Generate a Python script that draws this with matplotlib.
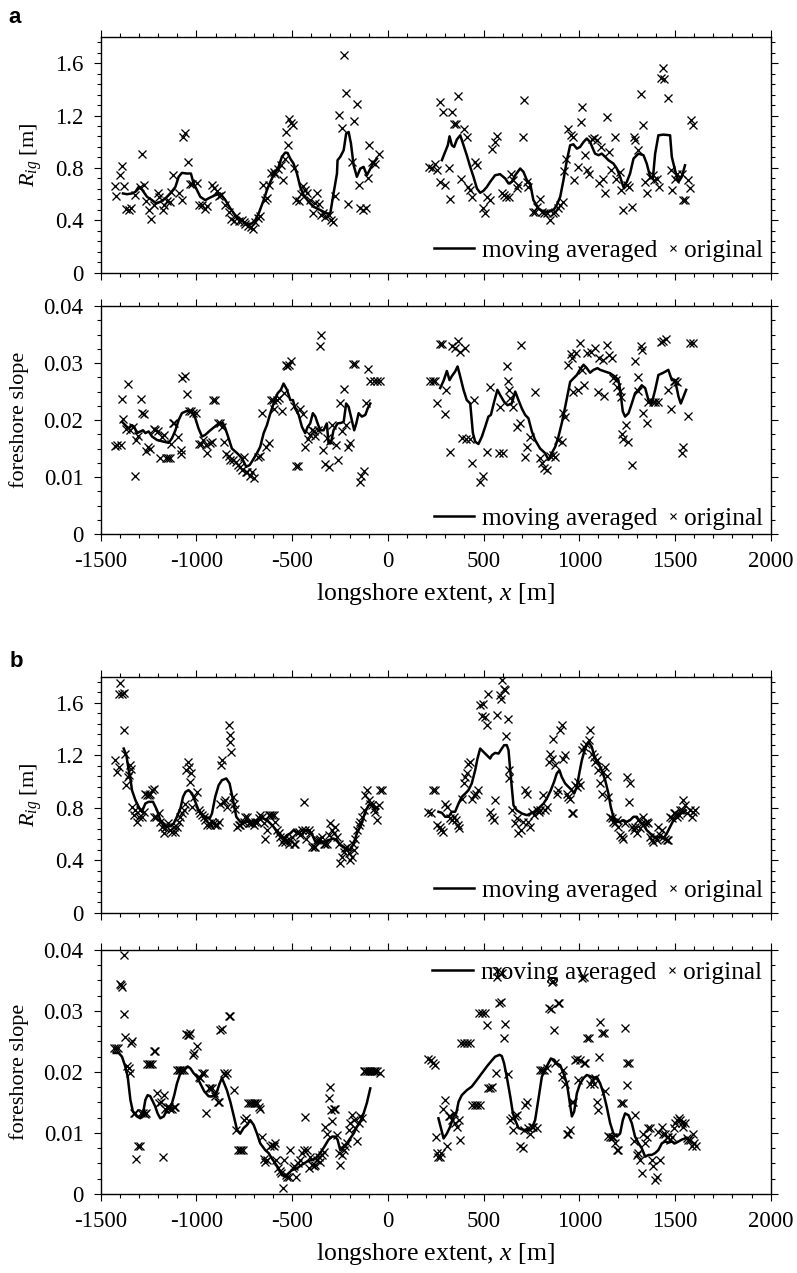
import numpy as np
import matplotlib
matplotlib.use('Agg')
import matplotlib.pyplot as plt
from matplotlib.lines import Line2D
from matplotlib.legend_handler import HandlerLine2D
from matplotlib.ticker import MultipleLocator, FuncFormatter

plt.rcParams['font.family'] = ['Liberation Serif', 'DejaVu Serif']
plt.rcParams['mathtext.fontset'] = 'custom'
plt.rcParams['mathtext.rm'] = 'Liberation Serif'
plt.rcParams['mathtext.it'] = 'Liberation Serif:italic'
plt.rcParams['axes.unicode_minus'] = False

# ---------------- panel a : R_ig ----------------
a_rig_x = [-1424, -1419, -1398, -1387, -1380, -1366, -1354, -1342, -1323, -1293, -1286, -1274, -1262, -1246, -1236,
           -1220, -1203, -1194, -1175, -1168, -1154, -1138, -1131, -1123, -1091, -1077, -1069, -1058, -1046, -1036,
           -1023, -997, -989, -971, -954, -945, -917, -909, -893, -881, -872, -849, -830, -818, -806, -794, -780,
           -764, -754, -745, -729, -715, -707, -694, -681, -668, -654, -641, -634, -621, -611, -597, -592, -573,
           -557, -548, -536, -531, -524, -517, -508, -498, -489, -480, -466, -453, -442, -435, -423, -409, -392,
           -379, -371, -359, -348, -338, -327, -310, -296, -285, -275, -256, -242, -228, -218, -211, -188, -176,
           -162, -153, -144, -131, -117, -106, -101, -84, -66, -49,
           217, 230, 244, 256, 270, 273, 287, 299, 317, 322, 334, 343, 355, 364, 381, 398, 412, 421, 430, 438, 456,
           465, 496, 508, 520, 534, 543, 560, 572, 595, 607, 618, 630, 642, 656, 673, 682, 705, 713, 726, 734, 757,
           769, 781, 795, 804, 816, 830, 847, 860, 874, 886, 900, 914, 922, 929, 943, 955, 966, 973, 995, 1009,
           1016, 1030, 1042, 1053, 1065, 1077, 1091, 1105, 1112, 1126, 1135, 1147, 1157, 1164, 1187, 1192, 1210,
           1217, 1230, 1248, 1262, 1274, 1283, 1291, 1304, 1321, 1331, 1344, 1356, 1370, 1384, 1392, 1404, 1418,
           1427, 1436, 1443, 1462, 1478, 1483, 1500, 1512, 1535, 1544, 1552, 1565, 1579, 1584, 1596]
a_rig_y = [0.665, 0.589, 0.749, 0.818, 0.665, 0.485, 0.478, 0.490, 0.592, 0.655, 0.907, 0.673, 0.551, 0.478, 0.406,
           0.518, 0.605, 0.579, 0.475, 0.513, 0.549, 0.541, 0.617, 0.747, 0.610, 0.554, 1.036, 1.067, 0.846, 0.678,
           0.676, 0.686, 0.516, 0.513, 0.483, 0.508, 0.673, 0.643, 0.627, 0.582, 0.594, 0.516, 0.460, 0.409, 0.394,
           0.434, 0.391, 0.401, 0.384, 0.368, 0.356, 0.351, 0.333, 0.384, 0.419, 0.432, 0.668, 0.554, 0.572, 0.668,
           0.762, 0.770, 0.757, 0.795, 0.820, 0.706, 0.871, 1.072, 0.978, 1.176, 1.143, 1.125, 0.800, 0.554, 0.546,
           0.597, 0.658, 0.630, 0.605, 0.554, 0.457, 0.533, 0.612, 0.523, 0.439, 0.452, 0.427, 0.439, 0.401, 0.389,
           0.587, 1.201, 1.105, 1.664, 1.372, 0.523, 0.846, 1.158, 1.288, 0.668, 0.490, 0.480, 0.490, 0.726, 0.978,
           0.846, 0.826, 0.909,
           0.808, 0.800, 0.833, 0.782, 0.693, 1.303, 1.227, 0.668, 0.800, 0.566, 1.227, 1.138, 1.138, 1.346, 0.714,
           1.095, 1.036, 0.655, 0.630, 0.579, 0.846, 0.820, 0.490, 0.452, 0.579, 0.554, 0.947, 0.998, 1.041, 0.610,
           0.592, 0.579, 0.579, 0.757, 0.706, 0.643, 0.668, 1.036, 1.316, 0.693, 0.655, 0.465, 0.465, 0.503, 0.566,
           0.465, 0.457, 0.452, 0.401, 0.452, 0.465, 0.490, 0.516, 0.541, 0.777, 0.871, 1.100, 1.049, 1.036, 0.706,
           0.808, 1.151, 1.265, 0.897, 0.782, 0.757, 1.024, 1.031, 1.011, 0.681, 0.960, 0.719, 0.605, 1.189, 0.922,
           0.782, 1.036, 0.719, 0.770, 0.630, 0.478, 0.668, 0.655, 0.503, 1.036, 1.011, 0.935, 1.361, 1.130, 0.693,
           0.605, 0.732, 0.744, 0.706, 0.719, 0.655, 1.488, 1.562, 1.481, 1.336, 0.782, 0.630, 0.719, 0.757, 0.757,
           0.554, 0.554, 0.706, 0.643, 1.163, 1.125]

a_rig_ma_west_x = [-1384, -1363, -1337, -1319, -1302, -1285, -1258, -1232, -1210, -1189, -1163, -1137, -1110, -1093,
                   -1076, -1050, -1029, -1015, -997, -980, -954, -928, -902, -876, -849, -823, -797, -771, -736,
                   -710, -693, -675, -649, -632, -614, -594, -571, -554, -536, -524, -510, -493, -475, -458, -440,
                   -414, -388, -353, -319, -301, -284, -266, -263, -249, -231, -218, -205, -193, -179, -162, -144,
                   -127, -110, -96, -78, -57]
a_rig_ma_west_y = [0.605, 0.599, 0.605, 0.617, 0.655, 0.635, 0.579, 0.554, 0.528, 0.541, 0.566, 0.605, 0.655, 0.732,
                   0.762, 0.757, 0.757, 0.681, 0.630, 0.579, 0.554, 0.574, 0.592, 0.605, 0.554, 0.490, 0.439, 0.406,
                   0.371, 0.376, 0.401, 0.452, 0.554, 0.630, 0.693, 0.757, 0.808, 0.884, 0.917, 0.914, 0.871, 0.833,
                   0.757, 0.655, 0.592, 0.541, 0.503, 0.478, 0.452, 0.452, 0.605, 0.757, 0.859, 0.884, 0.935, 1.062,
                   1.074, 0.986, 0.820, 0.732, 0.795, 0.808, 0.744, 0.782, 0.833, 0.871]
a_rig_ma_east_x = [282, 299, 313, 322, 334, 346, 360, 378, 395, 412, 430, 447, 465, 482, 499, 517, 534, 560, 586, 613,
                   630, 647, 665, 691, 708, 726, 743, 760, 787, 813, 839, 865, 882, 900, 917, 935, 952, 969, 987,
                   1004, 1022, 1039, 1056, 1082, 1100, 1117, 1135, 1152, 1178, 1196, 1213, 1230, 1248, 1265, 1283,
                   1309, 1335, 1352, 1370, 1384, 1396, 1413, 1439, 1474, 1483, 1500, 1518, 1535, 1552]
a_rig_ma_east_y = [0.859, 0.922, 0.973, 1.041, 0.973, 0.960, 1.016, 1.049, 0.973, 0.897, 0.808, 0.732, 0.643, 0.610,
                   0.625, 0.655, 0.693, 0.744, 0.752, 0.719, 0.681, 0.693, 0.744, 0.795, 0.770, 0.706, 0.681, 0.554,
                   0.490, 0.465, 0.465, 0.478, 0.516, 0.579, 0.706, 0.859, 0.973, 0.980, 0.947, 0.960, 0.998, 1.024,
                   0.998, 0.909, 0.897, 0.909, 0.884, 0.859, 0.833, 0.795, 0.732, 0.655, 0.693, 0.757, 0.871, 0.909,
                   0.897, 0.833, 0.732, 0.719, 0.909, 1.049, 1.054, 1.049, 0.884, 0.782, 0.693, 0.732, 0.820]

# ---------------- panel a : foreshore slope ----------------
a_slope_x = [-1424, -1415, -1394, -1389, -1384, -1370, -1358, -1345, -1332, -1319, -1314, -1307, -1290, -1283, -1274,
             -1262, -1253, -1245, -1224, -1215, -1203, -1189, -1178, -1171, -1159, -1151, -1140, -1133, -1123, -1116,
             -1095, -1083, -1081, -1074, -1060, -1050, -1037, -1029, -1018, -1001, -987, -978, -966, -952, -945,
             -931, -917, -914, -903, -889, -876, -867, -855, -844, -832, -823, -809, -795, -785, -771, -761, -754,
             -743, -735, -722, -712, -701, -681, -670, -660, -639, -621, -611, -601, -594, -580, -569, -554, -541,
             -534, -527, -517, -507, -493, -479, -470, -458, -444, -433, -419, -406, -395, -388, -379, -367, -357,
             -350, -339, -327, -317, -308, -301, -291, -273, -263, -252, -240, -228, -221, -211, -197, -181, -172,
             -148, -139, -127, -115, -106, -92, -75, -57, -40,
             221, 233, 245, 259, 270, 282, 296, 304, 325, 334, 351, 364, 378, 386, 404, 409, 430, 438, 451, 482, 499,
             517, 534, 578, 586, 600, 621, 626, 630, 639, 656, 673, 691, 696, 717, 729, 743, 769, 792, 804, 813, 830,
             847, 861, 874, 891, 908, 917, 926, 943, 955, 961, 969, 982, 995, 1004, 1016, 1025, 1039, 1060, 1082,
             1095, 1105, 1123, 1129, 1143, 1157, 1170, 1178, 1192, 1199, 1210, 1217, 1222, 1230, 1244, 1253, 1274,
             1291, 1304, 1309, 1321, 1326, 1335, 1352, 1361, 1384, 1396, 1413, 1425, 1439, 1452, 1465, 1478, 1492,
             1500, 1512, 1535, 1540, 1566, 1579, 1596]
a_slope_y = [0.0154, 0.0156, 0.0156, 0.0237, 0.0202, 0.0184, 0.0263, 0.0182, 0.0188, 0.0101, 0.0165, 0.0172, 0.0237,
             0.0213, 0.0211, 0.0146, 0.0153, 0.0149, 0.0185, 0.0182, 0.0180, 0.0134, 0.0171, 0.0173, 0.0134, 0.0134,
             0.0134, 0.0158, 0.0195, 0.0194, 0.0171, 0.0147, 0.0140, 0.0274, 0.0277, 0.0246, 0.0215, 0.0215, 0.0212,
             0.0213, 0.0158, 0.0158, 0.0165, 0.0156, 0.0142, 0.0159, 0.0161, 0.0235, 0.0235, 0.0195, 0.0195, 0.0188,
             0.0162, 0.0140, 0.0137, 0.0129, 0.0130, 0.0126, 0.0121, 0.0118, 0.0112, 0.0136, 0.0108, 0.0109, 0.0102,
             0.0108, 0.0098, 0.0136, 0.0137, 0.0213, 0.0153, 0.0159, 0.0235, 0.0235, 0.0219, 0.0235, 0.0238, 0.0216,
             0.0247, 0.0296, 0.0295, 0.0297, 0.0304, 0.0225, 0.0119, 0.0119, 0.0220, 0.0211, 0.0153, 0.0166, 0.0174,
             0.0182, 0.0180, 0.0172, 0.0182, 0.0329, 0.0349, 0.0147, 0.0123, 0.0168, 0.0118, 0.0164, 0.0191, 0.0156,
             0.0129, 0.0229, 0.0180, 0.0254, 0.0191, 0.0153, 0.0159, 0.0299, 0.0299, 0.0092, 0.0101, 0.0111, 0.0230,
             0.0290, 0.0269, 0.0268, 0.0268, 0.0268,
             0.0269, 0.0269, 0.0269, 0.0229, 0.0333, 0.0333, 0.0211, 0.0253, 0.0144, 0.0330, 0.0327, 0.0339, 0.0320,
             0.0168, 0.0327, 0.0166, 0.0166, 0.0124, 0.0235, 0.0092, 0.0101, 0.0144, 0.0258, 0.0142, 0.0223, 0.0142,
             0.0294, 0.0269, 0.0253, 0.0238, 0.0223, 0.0188, 0.0194, 0.0332, 0.0136, 0.0153, 0.0171, 0.0250, 0.0133,
             0.0124, 0.0115, 0.0112, 0.0137, 0.0139, 0.0136, 0.0165, 0.0162, 0.0212, 0.0206, 0.0297, 0.0316, 0.0308,
             0.0250, 0.0317, 0.0253, 0.0335, 0.0288, 0.0261, 0.0317, 0.0320, 0.0326, 0.0250, 0.0308, 0.0305, 0.0242,
             0.0332, 0.0314, 0.0308, 0.0273, 0.0270, 0.0258, 0.0251, 0.0241, 0.0175, 0.0166, 0.0191, 0.0162, 0.0121,
             0.0304, 0.0276, 0.0251, 0.0329, 0.0323, 0.0213, 0.0194, 0.0232, 0.0232, 0.0232, 0.0232, 0.0337, 0.0339,
             0.0342, 0.0253, 0.0220, 0.0269, 0.0268, 0.0267, 0.0142, 0.0152, 0.0207, 0.0336, 0.0335]

a_slope_ma_west_x = [-1389, -1372, -1354, -1337, -1325, -1311, -1293, -1279, -1267, -1250, -1232, -1206, -1171, -1145,
                     -1128, -1110, -1093, -1076, -1058, -1041, -1023, -1006, -989, -971, -954, -928, -902, -884, -862,
                     -849, -832, -815, -788, -762, -740, -722, -705, -684, -667, -649, -632, -614, -597, -576, -559,
                     -545, -527, -510, -496, -484, -466, -449, -432, -419, -406, -392, -379, -367, -353, -336, -319,
                     -310, -298, -284, -263, -245, -231, -218, -205, -193, -176, -165, -153, -136, -118, -106, -92]
a_slope_ma_west_y = [0.0197, 0.0191, 0.0185, 0.0191, 0.0188, 0.0177, 0.0180, 0.0182, 0.0177, 0.0180, 0.0171, 0.0165,
                     0.0162, 0.0160, 0.0168, 0.0182, 0.0200, 0.0212, 0.0215, 0.0216, 0.0215, 0.0203, 0.0185, 0.0171,
                     0.0174, 0.0182, 0.0189, 0.0194, 0.0195, 0.0185, 0.0168, 0.0150, 0.0142, 0.0133, 0.0118, 0.0121,
                     0.0130, 0.0142, 0.0153, 0.0177, 0.0191, 0.0212, 0.0229, 0.0247, 0.0253, 0.0264, 0.0253, 0.0235,
                     0.0235, 0.0220, 0.0209, 0.0188, 0.0177, 0.0188, 0.0194, 0.0212, 0.0206, 0.0194, 0.0182, 0.0182,
                     0.0194, 0.0159, 0.0159, 0.0182, 0.0194, 0.0195, 0.0197, 0.0229, 0.0223, 0.0206, 0.0182, 0.0194,
                     0.0212, 0.0206, 0.0209, 0.0220, 0.0229]
a_slope_ma_east_x = [273, 291, 308, 322, 334, 351, 364, 378, 395, 412, 430, 444, 456, 473, 491, 508, 525, 538, 555,
                     572, 586, 607, 625, 647, 665, 682, 700, 717, 734, 752, 769, 795, 821, 839, 856, 874, 891, 908,
                     926, 952, 969, 987, 1004, 1022, 1039, 1056, 1074, 1095, 1109, 1135, 1161, 1187, 1204, 1213, 1227,
                     1239, 1257, 1274, 1291, 1309, 1326, 1344, 1361, 1378, 1396, 1413, 1439, 1465, 1483, 1500, 1518,
                     1530, 1544, 1558]
a_slope_ma_east_y = [0.0256, 0.0269, 0.0286, 0.0270, 0.0277, 0.0285, 0.0294, 0.0276, 0.0253, 0.0235, 0.0229, 0.0177,
                     0.0162, 0.0158, 0.0171, 0.0188, 0.0206, 0.0209, 0.0232, 0.0253, 0.0244, 0.0232, 0.0226, 0.0229,
                     0.0250, 0.0235, 0.0220, 0.0209, 0.0203, 0.0180, 0.0165, 0.0150, 0.0142, 0.0130, 0.0142, 0.0153,
                     0.0171, 0.0194, 0.0223, 0.0267, 0.0273, 0.0279, 0.0289, 0.0297, 0.0291, 0.0283, 0.0288, 0.0291,
                     0.0288, 0.0285, 0.0282, 0.0276, 0.0270, 0.0253, 0.0215, 0.0206, 0.0212, 0.0229, 0.0247, 0.0253,
                     0.0261, 0.0256, 0.0235, 0.0229, 0.0253, 0.0279, 0.0283, 0.0288, 0.0270, 0.0270, 0.0241, 0.0229,
                     0.0241, 0.0253]

# ---------------- panel b : R_ig ----------------
b_rig_x = [-1424, -1415, -1406, -1403, -1398, -1389, -1380, -1377, -1372, -1366, -1359, -1354, -1345, -1340, -1335,
           -1328, -1319, -1311, -1302, -1293, -1285, -1276, -1267, -1258, -1250, -1241, -1232, -1224, -1220, -1210,
           -1198, -1189, -1180, -1171, -1163, -1151, -1137, -1128, -1119, -1110, -1102, -1093, -1084, -1076, -1067,
           -1058, -1053, -1046, -1041, -1036, -1029, -1023, -1011, -997, -987, -980, -971, -963, -954, -945, -936,
           -928, -919, -910, -902, -893, -884, -879, -872, -865, -858, -849, -841, -832, -827, -823, -818, -811,
           -806, -797, -788, -780, -771, -762, -754, -745, -736, -728, -719, -710, -701, -693, -684, -675, -667,
           -658, -649, -641, -632, -623, -614, -606, -597, -588, -580, -571, -562, -554, -545, -536, -527, -519,
           -510, -501, -493, -484, -475, -466, -458, -449, -440, -432, -426, -414, -406, -397, -388, -379, -371,
           -362, -353, -345, -336, -327, -319, -310, -301, -292, -284, -275, -266, -258, -249, -240, -231, -223,
           -214, -205, -197, -188, -183, -179, -171, -162, -153, -144, -136, -127, -118, -110, -101, -92, -84, -75,
           -66, -57, -49, -40, -31,
           212, 224, 235, 247, 259, 270, 277, 287, 299, 308, 322, 334, 343, 357, 364, 374, 386, 395, 404, 412, 421,
           430, 438, 451, 461, 473, 482, 491, 499, 508, 517, 525, 534, 543, 552, 560, 572, 583, 590, 597, 604, 613,
           618, 625, 630, 635, 647, 665, 673, 682, 694, 705, 717, 726, 734, 743, 752, 764, 778, 787, 795, 809, 821,
           830, 839, 847, 856, 865, 874, 882, 891, 900, 908, 917, 926, 935, 943, 952, 961, 969, 978, 987, 995, 1004,
           1013, 1025, 1035, 1048, 1056, 1065, 1074, 1082, 1091, 1100, 1109, 1117, 1126, 1135, 1143, 1152, 1161,
           1170, 1178, 1187, 1196, 1204, 1213, 1222, 1230, 1239, 1248, 1257, 1265, 1274, 1283, 1291, 1300, 1309,
           1317, 1326, 1335, 1344, 1352, 1361, 1370, 1378, 1387, 1396, 1404, 1413, 1422, 1431, 1439, 1448, 1457,
           1465, 1474, 1483, 1492, 1500, 1509, 1518, 1526, 1535, 1544, 1552, 1561, 1579, 1587, 1596, 1605]
b_rig_y = [1.168, 1.074, 1.113, 1.671, 1.753, 1.671, 1.392, 1.676, 1.214, 0.973, 1.036, 1.049, 1.125, 1.100, 0.808,
           0.744, 0.782, 0.693, 0.732, 0.782, 0.732, 0.770, 0.909, 0.897, 0.897, 0.909, 0.935, 0.947, 0.732, 0.732,
           0.757, 0.693, 0.655, 0.605, 0.643, 0.681, 0.630, 0.617, 0.655, 0.617, 0.655, 0.693, 0.732, 0.762, 0.782,
           0.833, 1.092, 1.151, 1.113, 0.998, 1.062, 0.808, 0.884, 0.922, 0.782, 0.757, 0.744, 0.732, 0.706, 0.668,
           0.681, 0.668, 0.693, 0.681, 0.668, 0.668, 0.693, 0.833, 1.125, 1.163, 0.846, 0.859, 0.808, 1.430, 1.303,
           1.354, 1.227, 0.884, 0.833, 0.795, 0.655, 0.668, 0.668, 0.681, 0.693, 0.732, 0.732, 0.681, 0.681, 0.681,
           0.668, 0.693, 0.693, 0.719, 0.744, 0.732, 0.681, 0.566, 0.630, 0.744, 0.744, 0.744, 0.744, 0.693, 0.630,
           0.605, 0.579, 0.541, 0.566, 0.541, 0.554, 0.528, 0.554, 0.579, 0.528, 0.528, 0.617, 0.617, 0.592, 0.630,
           0.846, 0.630, 0.566, 0.630, 0.605, 0.503, 0.503, 0.503, 0.554, 0.554, 0.566, 0.579, 0.528, 0.528, 0.528,
           0.592, 0.681, 0.630, 0.605, 0.655, 0.579, 0.528, 0.376, 0.427, 0.465, 0.490, 0.503, 0.452, 0.401, 0.427,
           0.528, 0.478, 0.566, 0.630, 0.668, 0.693, 0.732, 0.782, 0.897, 0.935, 0.859, 0.833, 0.820, 0.795, 0.770,
           0.706, 0.820, 0.935, 0.935,
           0.770, 0.762, 0.935, 0.935, 0.668, 0.655, 0.630, 0.617, 0.833, 0.808, 0.719, 0.706, 0.732, 0.706, 0.668,
           0.643, 0.871, 0.986, 1.036, 1.062, 1.138, 1.151, 0.871, 0.897, 0.909, 0.935, 1.582, 1.499, 1.595, 1.494,
           1.430, 1.671, 0.770, 0.732, 0.706, 0.859, 1.506, 1.659, 1.633, 1.773, 1.709, 1.697, 1.346, 1.481, 1.087,
           1.024, 0.782, 0.681, 0.719, 0.610, 0.630, 0.693, 0.935, 0.909, 0.693, 0.655, 0.770, 0.744, 0.782, 0.770,
           0.782, 0.897, 0.782, 0.808, 1.151, 1.214, 1.176, 1.328, 1.125, 0.909, 0.935, 1.392, 1.430, 1.176, 1.201,
           0.909, 0.884, 0.871, 0.757, 0.757, 0.973, 0.960, 0.998, 0.973, 1.240, 1.265, 1.290, 1.316, 1.392, 1.214,
           1.189, 1.151, 1.163, 1.087, 0.986, 0.909, 1.074, 1.113, 1.041, 0.884, 0.732, 0.719, 0.693, 0.681, 0.706,
           0.655, 0.592, 0.579, 0.566, 0.681, 1.036, 0.846, 0.986, 0.655, 0.630, 0.655, 0.605, 0.706, 0.643, 0.681,
           0.732, 0.681, 0.693, 0.681, 0.579, 0.554, 0.541, 0.579, 0.554, 0.655, 0.592, 0.630, 0.579, 0.566, 0.554,
           0.554, 0.732, 0.719, 0.757, 0.757, 0.732, 0.744, 0.782, 0.782, 0.859, 0.820, 0.757, 0.782, 0.732, 0.770,
           0.782]

b_rig_ma_west_x = [-1380, -1366, -1354, -1345, -1337, -1319, -1302, -1285, -1267, -1250, -1227, -1206, -1189, -1171,
                   -1154, -1137, -1119, -1102, -1084, -1070, -1057, -1041, -1023, -1006, -989, -971, -954, -931, -919,
                   -902, -884, -867, -844, -827, -809, -792, -771, -745, -722, -701, -684, -667, -649, -632, -614,
                   -597, -580, -562, -545, -527, -510, -493, -472, -449, -432, -414, -397, -379, -357, -336, -310,
                   -284, -266, -249, -231, -214, -197, -179, -162, -141, -118, -101, -84, -66, -54]
b_rig_ma_west_y = [1.252, 1.201, 1.087, 1.024, 0.935, 0.859, 0.808, 0.770, 0.833, 0.846, 0.846, 0.782, 0.706, 0.681,
                   0.655, 0.660, 0.681, 0.732, 0.795, 0.884, 0.922, 0.935, 0.909, 0.846, 0.782, 0.744, 0.732, 0.719,
                   0.757, 0.884, 0.973, 1.011, 1.024, 0.986, 0.859, 0.732, 0.693, 0.693, 0.693, 0.693, 0.706, 0.719,
                   0.719, 0.706, 0.681, 0.655, 0.617, 0.592, 0.566, 0.592, 0.605, 0.630, 0.605, 0.592, 0.630, 0.630,
                   0.599, 0.541, 0.533, 0.541, 0.554, 0.566, 0.554, 0.516, 0.503, 0.478, 0.478, 0.528, 0.605, 0.668,
                   0.770, 0.820, 0.833, 0.808, 0.795]
b_rig_ma_east_x = [264, 282, 299, 317, 334, 351, 369, 386, 404, 421, 438, 456, 468, 482, 499, 517, 534, 543, 560, 578,
                   595, 607, 621, 630, 639, 647, 656, 673, 700, 726, 752, 769, 795, 813, 830, 851, 868, 882, 896, 908,
                   926, 943, 961, 973, 987, 1001, 1013, 1030, 1048, 1065, 1082, 1100, 1117, 1135, 1152, 1164, 1178,
                   1196, 1213, 1230, 1248, 1265, 1283, 1300, 1317, 1335, 1352, 1370, 1387, 1404, 1422, 1439, 1457,
                   1474, 1492, 1509, 1526, 1544, 1556]
b_rig_ma_east_y = [0.770, 0.762, 0.732, 0.732, 0.770, 0.770, 0.833, 0.884, 0.909, 0.935, 0.986, 1.087, 1.176, 1.252,
                   1.227, 1.201, 1.176, 1.201, 1.219, 1.214, 1.252, 1.278, 1.278, 1.240, 1.087, 0.960, 0.820, 0.782,
                   0.757, 0.744, 0.762, 0.770, 0.808, 0.833, 0.871, 0.935, 0.998, 1.062, 1.087, 1.036, 0.986, 0.960,
                   0.935, 0.909, 0.960, 1.074, 1.163, 1.252, 1.303, 1.265, 1.176, 1.138, 1.087, 1.011, 0.909, 0.808,
                   0.732, 0.693, 0.693, 0.706, 0.693, 0.706, 0.732, 0.732, 0.693, 0.668, 0.630, 0.605, 0.579, 0.579,
                   0.579, 0.566, 0.605, 0.655, 0.706, 0.732, 0.757, 0.762, 0.782]

# ---------------- panel b : foreshore slope ----------------
b_slope_x = [-1429, -1419, -1412, -1401, -1394, -1389, -1380, -1380, -1372, -1363, -1354, -1349, -1340, -1335, -1328,
             -1319, -1314, -1307, -1297, -1290, -1279, -1271, -1262, -1258, -1250, -1241, -1232, -1224, -1215, -1206,
             -1198, -1185, -1175, -1171, -1163, -1154, -1145, -1137, -1128, -1119, -1110, -1102, -1093, -1084, -1076,
             -1067, -1057, -1046, -1039, -1032, -1018, -1011, -997, -989, -983, -971, -963, -949, -936, -931, -919,
             -910, -902, -889, -882, -876, -867, -858, -849, -841, -832, -823, -806, -795, -785, -775, -768, -757,
             -750, -740, -733, -722, -710, -701, -693, -684, -675, -667, -658, -649, -641, -632, -614, -606, -597,
             -588, -583, -574, -566, -557, -548, -541, -534, -527, -519, -510, -496, -489, -479, -470, -461, -449,
             -440, -432, -423, -414, -406, -397, -388, -379, -371, -362, -353, -345, -336, -327, -319, -310, -301,
             -296, -292, -284, -275, -266, -258, -249, -240, -231, -223, -214, -205, -197, -188, -179, -171, -162,
             -153, -144, -136, -127, -118, -110, -101, -92, -84, -75, -66, -57, -40,
             212, 224, 235, 247, 252, 259, 264, 270, 277, 287, 296, 308, 317, 325, 334, 343, 351, 360, 369, 378, 381,
             395, 412, 430, 438, 456, 468, 482, 478, 491, 508, 520, 525, 534, 543, 566, 579, 590, 595, 607, 614, 625,
             639, 647, 656, 665, 673, 691, 705, 712, 717, 726, 734, 743, 752, 760, 778, 792, 804, 813, 830, 839, 851,
             856, 868, 874, 886, 896, 908, 917, 926, 935, 943, 952, 961, 969, 978, 987, 995, 1004, 1013, 1022, 1030,
             1039, 1048, 1056, 1065, 1074, 1082, 1091, 1095, 1105, 1109, 1119, 1129, 1135, 1152, 1161, 1170, 1178,
             1187, 1196, 1204, 1217, 1230, 1239, 1248, 1251, 1262, 1283, 1291, 1300, 1309, 1317, 1326, 1335, 1344,
             1352, 1361, 1370, 1378, 1387, 1396, 1404, 1413, 1422, 1431, 1439, 1448, 1457, 1465, 1474, 1483, 1492,
             1500, 1509, 1518, 1526, 1535, 1544, 1552, 1561, 1570, 1579, 1587, 1596, 1599, 1608, 572, 569, 861, 1022]
b_slope_y = [0.0239, 0.0239, 0.0239, 0.0344, 0.0342, 0.0340, 0.0392, 0.0295, 0.0258, 0.0209, 0.0206, 0.0198, 0.0248,
             0.0250, 0.0132, 0.0133, 0.0057, 0.0078, 0.0078, 0.0133, 0.0133, 0.0131, 0.0133, 0.0213, 0.0213, 0.0213,
             0.0213, 0.0235, 0.0235, 0.0165, 0.0149, 0.0150, 0.0060, 0.0162, 0.0140, 0.0143, 0.0143, 0.0140, 0.0140,
             0.0143, 0.0143, 0.0203, 0.0203, 0.0203, 0.0203, 0.0203, 0.0262, 0.0261, 0.0261, 0.0263, 0.0228, 0.0231,
             0.0242, 0.0192, 0.0190, 0.0198, 0.0198, 0.0133, 0.0173, 0.0173, 0.0173, 0.0165, 0.0160, 0.0150, 0.0151,
             0.0269, 0.0270, 0.0198, 0.0195, 0.0198, 0.0292, 0.0292, 0.0170, 0.0104, 0.0072, 0.0072, 0.0072, 0.0072,
             0.0121, 0.0124, 0.0149, 0.0149, 0.0149, 0.0149, 0.0149, 0.0149, 0.0143, 0.0140, 0.0094, 0.0057, 0.0053,
             0.0056, 0.0078, 0.0080, 0.0078, 0.0083, 0.0056, 0.0042, 0.0037, 0.0034, 0.0009, 0.0056, 0.0031, 0.0028,
             0.0028, 0.0072, 0.0042, 0.0045, 0.0028, 0.0050, 0.0056, 0.0067, 0.0072, 0.0126, 0.0072, 0.0042, 0.0061,
             0.0048, 0.0045, 0.0048, 0.0056, 0.0061, 0.0053, 0.0064, 0.0069, 0.0110, 0.0099, 0.0157, 0.0176, 0.0138,
             0.0119, 0.0140, 0.0140, 0.0097, 0.0067, 0.0048, 0.0064, 0.0072, 0.0078, 0.0083, 0.0105, 0.0116, 0.0129,
             0.0121, 0.0108, 0.0086, 0.0116, 0.0127, 0.0124, 0.0201, 0.0201, 0.0201, 0.0201, 0.0201, 0.0201, 0.0201,
             0.0202, 0.0202, 0.0199,
             0.0222, 0.0220, 0.0214, 0.0211, 0.0094, 0.0067, 0.0061, 0.0060, 0.0067, 0.0140, 0.0154, 0.0078, 0.0127,
             0.0127, 0.0121, 0.0132, 0.0116, 0.0110, 0.0121, 0.0089, 0.0247, 0.0247, 0.0247, 0.0247, 0.0146, 0.0146,
             0.0146, 0.0146, 0.0297, 0.0297, 0.0297, 0.0277, 0.0173, 0.0173, 0.0176, 0.0199, 0.0313, 0.0314, 0.0362,
             0.0255, 0.0279, 0.0197, 0.0121, 0.0124, 0.0105, 0.0127, 0.0129, 0.0078, 0.0075, 0.0105, 0.0146, 0.0150,
             0.0108, 0.0099, 0.0110, 0.0110, 0.0108, 0.0203, 0.0203, 0.0203, 0.0206, 0.0304, 0.0303, 0.0348, 0.0269,
             0.0214, 0.0313, 0.0313, 0.0192, 0.0203, 0.0181, 0.0099, 0.0099, 0.0105, 0.0151, 0.0151, 0.0220, 0.0222,
             0.0187, 0.0220, 0.0354, 0.0214, 0.0214, 0.0255, 0.0255, 0.0181, 0.0187, 0.0181, 0.0190, 0.0151, 0.0137,
             0.0225, 0.0282, 0.0263, 0.0263, 0.0168, 0.0095, 0.0094, 0.0094, 0.0094, 0.0083, 0.0072, 0.0072, 0.0149,
             0.0149, 0.0272, 0.0179, 0.0214, 0.0214, 0.0086, 0.0129, 0.0064, 0.0067, 0.0056, 0.0034, 0.0099, 0.0083,
             0.0094, 0.0108, 0.0108, 0.0056, 0.0045, 0.0023, 0.0028, 0.0102, 0.0056, 0.0110, 0.0099, 0.0099, 0.0094,
             0.0094, 0.0089, 0.0094, 0.0108, 0.0116, 0.0121, 0.0124, 0.0121, 0.0116, 0.0110, 0.0116, 0.0091, 0.0089,
             0.0089, 0.0078, 0.0099, 0.0083, 0.0078, 0.0366, 0.0355, 0.0349, 0.0355]

b_slope_ma_west_x = [-1432, -1406, -1389, -1372, -1359, -1345, -1332, -1311, -1293, -1279, -1267, -1255, -1241, -1227,
                     -1215, -1203, -1189, -1171, -1154, -1133, -1116, -1102, -1084, -1064, -1046, -1032, -1015, -997,
                     -980, -959, -936, -914, -896, -879, -867, -855, -841, -823, -806, -788, -771, -754, -736, -719,
                     -701, -684, -667, -641, -623, -606, -588, -571, -554, -536, -519, -501, -475, -449, -423, -397,
                     -379, -353, -327, -310, -292, -275, -263, -249, -231, -214, -197, -179, -162, -144, -127, -110,
                     -92]
b_slope_ma_west_y = [0.0231, 0.0231, 0.0225, 0.0209, 0.0192, 0.0154, 0.0135, 0.0127, 0.0124, 0.0132, 0.0154, 0.0162,
                     0.0160, 0.0151, 0.0143, 0.0132, 0.0124, 0.0127, 0.0138, 0.0143, 0.0162, 0.0181, 0.0198, 0.0204,
                     0.0209, 0.0206, 0.0198, 0.0192, 0.0181, 0.0168, 0.0160, 0.0160, 0.0165, 0.0181, 0.0190, 0.0181,
                     0.0170, 0.0151, 0.0129, 0.0105, 0.0099, 0.0108, 0.0113, 0.0121, 0.0113, 0.0099, 0.0083, 0.0072,
                     0.0067, 0.0058, 0.0050, 0.0042, 0.0031, 0.0028, 0.0034, 0.0039, 0.0042, 0.0048, 0.0053, 0.0056,
                     0.0058, 0.0067, 0.0080, 0.0089, 0.0094, 0.0094, 0.0089, 0.0072, 0.0078, 0.0083, 0.0091, 0.0099,
                     0.0110, 0.0119, 0.0132, 0.0149, 0.0173]
b_slope_ma_east_x = [264, 277, 291, 308, 325, 343, 357, 369, 386, 412, 438, 465, 491, 517, 538, 560, 583, 595, 607,
                     621, 639, 653, 665, 682, 708, 734, 752, 769, 787, 804, 830, 851, 868, 882, 900, 917, 935, 948,
                     961, 973, 987, 1004, 1022, 1039, 1056, 1074, 1091, 1109, 1126, 1143, 1161, 1178, 1196, 1213,
                     1227, 1239, 1257, 1274, 1291, 1309, 1326, 1344, 1361, 1378, 1396, 1413, 1431, 1448, 1465, 1483,
                     1500, 1518, 1535, 1552]
b_slope_ma_east_y = [0.0124, 0.0108, 0.0091, 0.0099, 0.0110, 0.0127, 0.0132, 0.0151, 0.0162, 0.0170, 0.0176, 0.0187,
                     0.0198, 0.0209, 0.0217, 0.0225, 0.0228, 0.0226, 0.0214, 0.0192, 0.0160, 0.0132, 0.0121, 0.0108,
                     0.0105, 0.0105, 0.0108, 0.0121, 0.0157, 0.0192, 0.0209, 0.0222, 0.0220, 0.0214, 0.0211, 0.0198,
                     0.0181, 0.0154, 0.0127, 0.0135, 0.0165, 0.0181, 0.0190, 0.0195, 0.0193, 0.0190, 0.0192, 0.0181,
                     0.0165, 0.0143, 0.0116, 0.0099, 0.0094, 0.0099, 0.0121, 0.0132, 0.0129, 0.0116, 0.0094, 0.0083,
                     0.0075, 0.0061, 0.0064, 0.0064, 0.0067, 0.0072, 0.0083, 0.0086, 0.0084, 0.0086, 0.0083, 0.0086,
                     0.0089, 0.0091]

x_ticks = [-1500, -1000, -500, 0, 500, 1000, 1500, 2000]
rig_ticks = [0, 0.4, 0.8, 1.2, 1.6]
slope_ticks = [0, 0.01, 0.02, 0.03, 0.04]
legend_labels = ['moving averaged', 'original']


class MarkerAtRight(HandlerLine2D):
    """Legend handler that puts the single marker at the right end of the handle box."""
    def get_xdata(self, legend, xdescent, ydescent, width, height, fontsize):
        p = -xdescent + width - 0.12 * fontsize
        return [p, p], [p]


fig = plt.figure(figsize=(7.97, 12.73), dpi=100)
L, W = 0.1264, 0.8407
axes_spec = [
    ([L, 0.7858, W, 0.1852], 'rig', a_rig_x, a_rig_y, [(a_rig_ma_west_x, a_rig_ma_west_y), (a_rig_ma_east_x, a_rig_ma_east_y)], False, (0.9885, 0.093)),
    ([L, 0.5805, W, 0.1791], 'slope', a_slope_x, a_slope_y, [(a_slope_ma_west_x, a_slope_ma_west_y), (a_slope_ma_east_x, a_slope_ma_east_y)], True, (0.9885, 0.069)),
    ([L, 0.2830, W, 0.1854], 'rig', b_rig_x, b_rig_y, [(b_rig_ma_west_x, b_rig_ma_west_y), (b_rig_ma_east_x, b_rig_ma_east_y)], False, (0.9885, 0.093)),
    ([L, 0.0621, W, 0.1917], 'slope', b_slope_x, b_slope_y, [(b_slope_ma_west_x, b_slope_ma_west_y), (b_slope_ma_east_x, b_slope_ma_east_y)], True, (0.9866, 0.907)),
]

for rect, kind, sx, sy, mas, xlab, leg_anchor in axes_spec:
    assert len(sx) == len(sy)
    ax = fig.add_axes(rect)
    ax.plot(sx, sy, ls='none', marker='x', ms=6.0, mew=0.95, color='k', zorder=3)
    for mx, my in mas:
        assert len(mx) == len(my)
        ax.plot(mx, my, color='k', lw=1.8, zorder=4)
    ax.set_xlim(-1500, 2000)
    ax.xaxis.set_major_locator(plt.FixedLocator(x_ticks))
    ax.xaxis.set_minor_locator(MultipleLocator(100))
    ax.xaxis.set_major_formatter(FuncFormatter(lambda v, p: '%d' % v))
    if kind == 'rig':
        ax.set_ylim(0, 1.8)
        ax.yaxis.set_major_locator(plt.FixedLocator(rig_ticks))
        ax.yaxis.set_minor_locator(MultipleLocator(0.08))
        ax.yaxis.set_major_formatter(FuncFormatter(lambda v, p: '0' if abs(v) < 1e-9 else '%.1f' % v))
        ax.set_ylabel(r'$R_{ig}$ [m]', fontsize=16, labelpad=8)
    else:
        ax.set_ylim(0, 0.04)
        ax.yaxis.set_major_locator(plt.FixedLocator(slope_ticks))
        ax.yaxis.set_minor_locator(MultipleLocator(0.0025))
        ax.yaxis.set_major_formatter(FuncFormatter(lambda v, p: '0' if abs(v) < 1e-9 else '%.2f' % v))
        ax.set_ylabel('foreshore slope', fontsize=16, labelpad=10)
    ax.tick_params(which='both', direction='out', top=True, right=True, width=0.8,
                   labelsize=16.5, pad=7.5, labelbottom=xlab)
    ax.tick_params(which='major', length=5)
    ax.tick_params(which='minor', length=3.2)
    for sp in ax.spines.values():
        sp.set_linewidth(1.0)
    if xlab:
        ax.set_xlabel('longshore extent, $x$ [m]', fontsize=18.5, labelpad=6)

    h_line = Line2D([], [], color='k', lw=1.8)
    h_mark = Line2D([], [], ls='none', marker='x', ms=4.5, mew=0.8, color='k')
    ax.legend([h_line, h_mark], legend_labels, loc='center right', bbox_to_anchor=leg_anchor,
              ncol=2, frameon=False, fontsize=18.3, handlelength=1.6, handletextpad=0.3,
              columnspacing=-0.85, borderpad=0, borderaxespad=0,
              handler_map={h_mark: MarkerAtRight(numpoints=1)})

fig.text(8 / 797, 1 - 23 / 1273, 'a', fontsize=16, fontweight='bold', family='Liberation Sans', va='baseline')
fig.text(10 / 797, 1 - 667 / 1273, 'b', fontsize=16, fontweight='bold', family='Liberation Sans', va='baseline')

fig.savefig('out.png', dpi=100)
